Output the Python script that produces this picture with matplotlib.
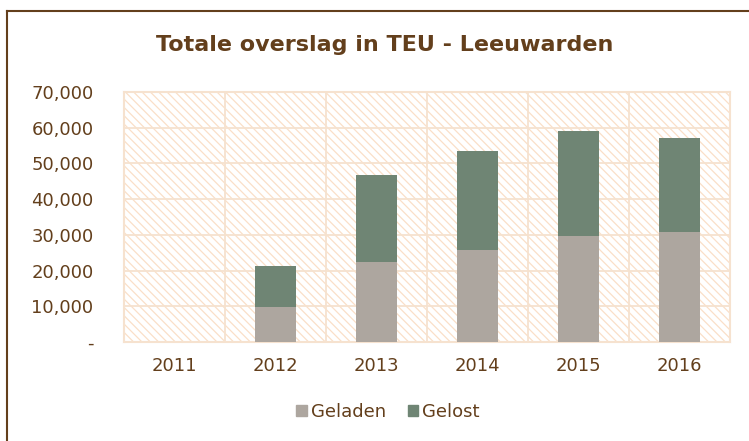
import matplotlib.pyplot as plt
import matplotlib.patches as mpatches
from matplotlib.lines import Line2D
import numpy as np

years = ['2011', '2012', '2013', '2014', '2015', '2016']
geladen = [0, 9800, 22300, 25850, 29700, 30750]
totaal = [0, 21350, 46850, 53600, 59200, 57200]
gelost = [t - g for t, g in zip(totaal, geladen)]

brown = '#633F1C'
grid_col = '#F6E2CF'
hatch_col = '#FADFC8'

plt.rcParams['font.family'] = 'DejaVu Sans'
plt.rcParams['hatch.linewidth'] = 0.9

fig = plt.figure(figsize=(7.49, 4.41), dpi=100)
ax = fig.add_axes([124 / 749, 1 - 342 / 441, (730 - 124) / 749, (342 - 92) / 441])

# hatched plot area background
ax.add_patch(mpatches.Rectangle((0, 0), 1, 1, transform=ax.transAxes,
                                facecolor='white', edgecolor=hatch_col,
                                hatch='\\' * 4, linewidth=0, zorder=0))

x = np.arange(len(years))
ax.bar(x, geladen, width=0.4, color='#ADA69F', label='Geladen', zorder=3)
ax.bar(x, gelost, width=0.4, bottom=geladen, color='#6F8574', label='Gelost', zorder=3)

ax.set_xlim(-0.5, len(years) - 0.5)
ax.set_ylim(0, 70000)
ax.set_yticks(range(0, 70001, 10000))
ax.set_yticklabels(['-'] + [f'{v:,}' for v in range(10000, 70001, 10000)])
ax.set_xticks(x)
ax.set_xticklabels(years)

# grid lines
for v in range(10000, 70001, 10000):
    ax.axhline(v, color=grid_col, linewidth=1.3, zorder=1)
for b in np.arange(0.5, len(years) - 1, 1):
    ax.axvline(b, color=grid_col, linewidth=1.3, zorder=1)
for s in ax.spines.values():
    s.set_color(grid_col)
    s.set_linewidth(1.5)

ax.tick_params(length=0, colors=brown, labelsize=13)
ax.tick_params(axis='y', pad=22)
ax.tick_params(axis='x', pad=11)

fig.text(385 / 749, 1 - 45 / 441, 'Totale overslag in TEU - Leeuwarden',
         ha='center', va='center', fontsize=16, fontweight='bold', color=brown)

handles = [mpatches.Patch(color='#ADA69F'), mpatches.Patch(color='#6F8574')]
fig.legend(handles, ['Geladen', 'Gelost'], loc='center', ncol=2,
           bbox_to_anchor=(388 / 749, 1 - 412 / 441), frameon=False,
           fontsize=13, labelcolor=brown, handlelength=0.6, handleheight=0.6,
           handletextpad=0.2, columnspacing=1.2)

# outer border (top and left visible)
fig.add_artist(Line2D([7 / 749, 1], [1 - 11 / 441, 1 - 11 / 441],
                      transform=fig.transFigure, color=brown, linewidth=1.5))
fig.add_artist(Line2D([7 / 749, 7 / 749], [0, 1 - 11 / 441],
                      transform=fig.transFigure, color=brown, linewidth=1.5))

fig.savefig('out.png', dpi=100)
